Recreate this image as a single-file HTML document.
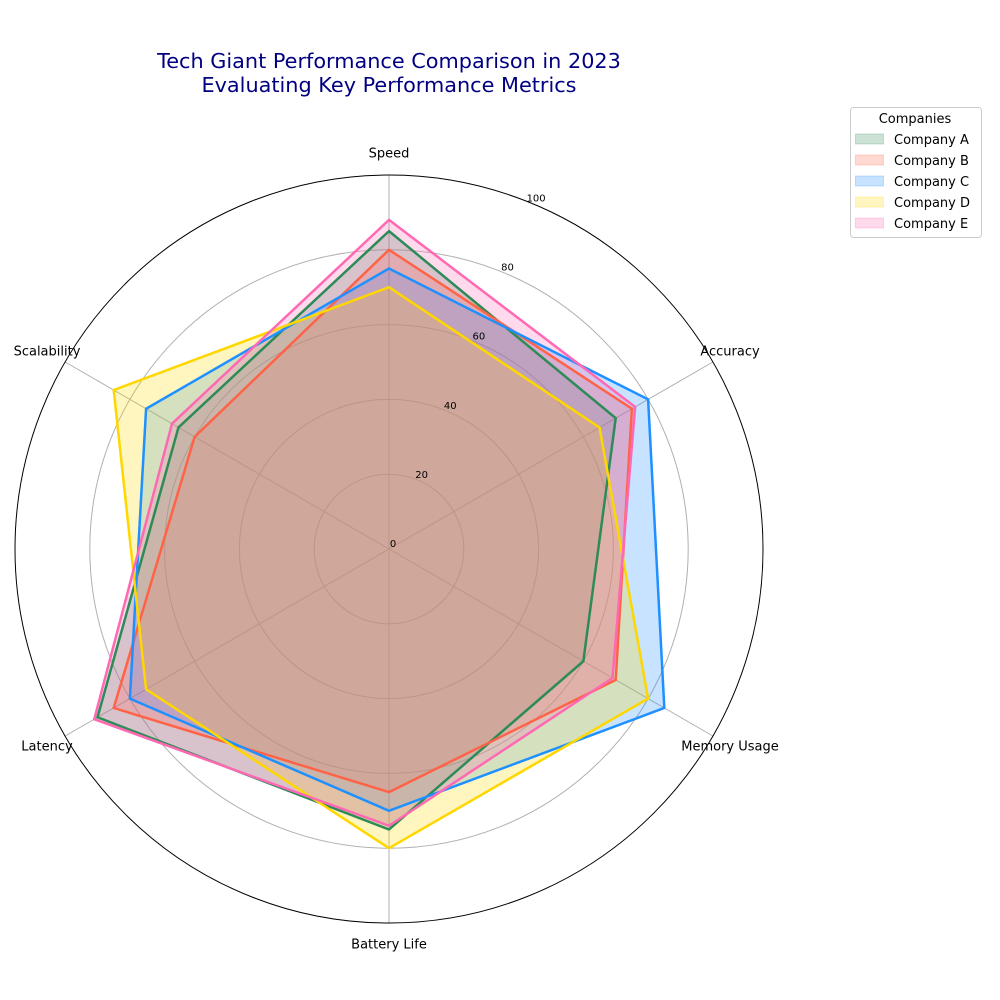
<!DOCTYPE html>
<html>
<head>
<meta charset="utf-8">
<style>
  html, body { margin: 0; padding: 0; background: #fff; }
  svg { display: block; font-family: "DejaVu Sans", "Liberation Sans", sans-serif; }
</style>
</head>
<body>
<svg id="chart" width="1000" height="1000" viewBox="0 0 1000 1000">
  <text x="389" y="68" text-anchor="middle" font-size="20.8" fill="#000080">Tech Giant Performance Comparison in 2023</text>
  <text x="389" y="92" text-anchor="middle" font-size="20.8" fill="#000080">Evaluating Key Performance Metrics</text>
  <g id="grid"></g>
  <g id="fills"></g>
  <g id="lines"></g>
  <g id="ticks"></g>
  <g id="legend"></g>
</svg>
<script>
const categories = ["Speed", "Accuracy", "Memory Usage", "Battery Life", "Latency", "Scalability"];
const companies = ["Company A", "Company B", "Company C", "Company D", "Company E"];
const seriesA = [85, 70, 60, 75, 90, 65];
const seriesB = [80, 75, 70, 65, 85, 60];
const seriesC = [75, 80, 85, 70, 80, 75];
const seriesD = [70, 65, 80, 80, 75, 85];
const seriesE = [88, 76, 69, 74, 91, 67];
const radialTicks = [0, 20, 40, 60, 80, 100];
const colors = ["#2e8b57", "#ff6347", "#1e90ff", "#ffd700", "#ff69b4"];
const allSeries = [seriesA, seriesB, seriesC, seriesD, seriesE];

const NS = "http://www.w3.org/2000/svg";
const cx = 389, cy = 549, R = 374, maxV = 100;
function rScale(v) { return v / maxV * R; }
function angle(i) { return Math.PI / 2 - i * 2 * Math.PI / categories.length; }
function pt(i, v) { const a = angle(i), r = rScale(v); return [cx + r * Math.cos(a), cy - r * Math.sin(a)]; }
function mk(tag, attrs, parent) {
  const e = document.createElementNS(NS, tag);
  for (const k in attrs) e.setAttribute(k, attrs[k]);
  parent.appendChild(e);
  return e;
}

const grid = document.getElementById("grid");
radialTicks.forEach(t => {
  if (t > 0 && t < maxV) {
    const c = mk("circle", {cx: cx, cy: cy, r: rScale(t), fill: "none", stroke: "#b0b0b0", "stroke-width": 1}, grid);
    
    
  }
});
categories.forEach((c, i) => {
  const [x, y] = pt(i, maxV);
  const l = mk("line", {x1: cx, y1: cy, x2: x, y2: y, stroke: "#b0b0b0", "stroke-width": 1}, grid);
  
  
  const [lx, ly] = pt(i, maxV + 5.7);
  const a = angle(i);
  let tx = cx;
  if (Math.cos(a) > 0.1) tx = 730; else if (Math.cos(a) < -0.1) tx = 47;
  const txt = mk("text", {x: tx, y: ly + 4, "text-anchor": "middle", "font-size": 13, fill: "#000"}, grid);
  txt.textContent = c;
  
  
});
const outer = mk("circle", {cx: cx, cy: cy, r: R, fill: "none", stroke: "#000", "stroke-width": 1}, grid);



const fg = document.getElementById("fills");
const lgp = document.getElementById("lines");
allSeries.forEach((vals, s) => {
  const pts = vals.map((v, i) => pt(i, v).join(",")).join(" ");
  const f = mk("polygon", {points: pts, fill: colors[s], "fill-opacity": 0.25, stroke: "none"}, fg);
  
  
});
allSeries.forEach((vals, s) => {
  const pts = vals.map((v, i) => pt(i, v).join(",")).join(" ");
  const p = mk("polygon", {points: pts, fill: "none", stroke: colors[s], "stroke-width": 2.5, "stroke-linejoin": "miter"}, lgp);
  
  
});

const tg = document.getElementById("ticks");
const tickAng = Math.PI / 2 - 22.5 * Math.PI / 180;
radialTicks.forEach(t => {
  const r = rScale(t);
  const tt = mk("text", {x: cx + r * Math.cos(tickAng) + 4, y: cy - r * Math.sin(tickAng) - 2, "text-anchor": "middle", "font-size": 10, fill: "#000"}, tg);
  tt.textContent = t;
  
  
});

const lg = document.getElementById("legend");
const box = mk("rect", {x: 850.5, y: 107.5, width: 131, height: 130, rx: 3, fill: "#fff", stroke: "#ccc"}, lg);


const lt = mk("text", {x: 915, y: 123, "text-anchor": "middle", "font-size": 13, fill: "#000"}, lg);
lt.textContent = "Companies";


companies.forEach((c, s) => {
  const y = 139 + s * 21;
  const r = mk("rect", {x: 855.5, y: y - 5, width: 28, height: 10, fill: colors[s], "fill-opacity": 0.25, stroke: colors[s], "stroke-opacity": 0.25}, lg);
  
  
  const t = mk("text", {x: 894, y: y + 5, "font-size": 13, fill: "#000"}, lg);
  t.textContent = c;
  
  
});
</script>
</body>
</html>
